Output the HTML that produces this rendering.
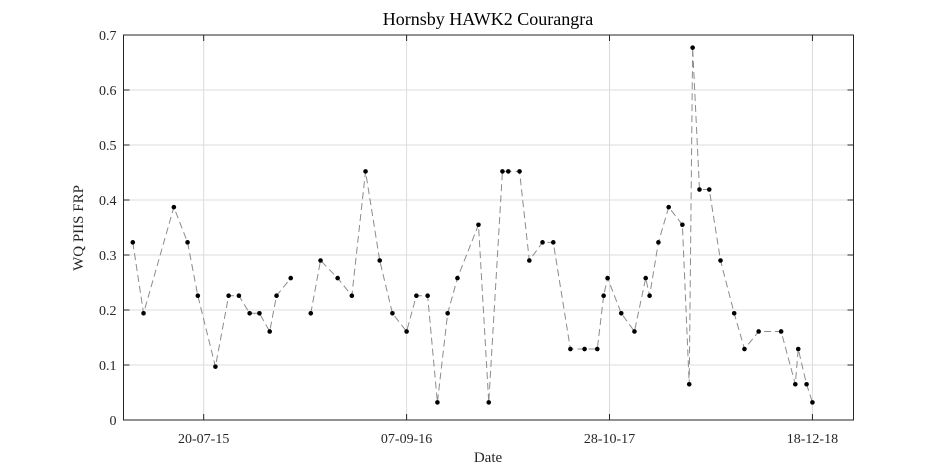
<!DOCTYPE html>
<html><head><meta charset="utf-8"><style>
html,body{margin:0;padding:0;background:#fff;}
svg{display:block;font-family:"Liberation Serif",serif;}
</style></head><body>
<svg id="chart" width="945" height="472" viewBox="0 0 945 472"></svg>
<script>
// day offsets from 20-07-15
const days = [-145,-123,-61,-33,-12,24,51,72,94,114,135,149,178,190,219,239,274,303,331,360,386,415,435,458,478,499,519,562,583,611,623,646,666,693,715,750,779,805,818,826,854,881,904,912,930,951,979,993,1000,1014,1034,1057,1085,1106,1135,1181,1210,1216,1233,1245];
const values = [0.323,0.194,0.387,0.323,0.226,0.097,0.226,0.226,0.194,0.194,0.161,0.226,0.258,null,0.194,0.290,0.258,0.226,0.452,0.290,0.194,0.161,0.226,0.226,0.032,0.194,0.258,0.355,0.032,0.452,0.452,0.452,0.290,0.323,0.323,0.129,0.129,0.129,0.226,0.258,0.194,0.161,0.258,0.226,0.323,0.387,0.355,0.065,0.677,0.419,0.419,0.290,0.194,0.129,0.161,0.161,0.065,0.129,0.065,0.032];
const xTickDays = [0,415,830,1245];
const xTickLabels = ["20-07-15","07-09-16","28-10-17","18-12-18"];
const yTicks = [0,0.1,0.2,0.3,0.4,0.5,0.6,0.7];
const yTickLabels = ["0","0.1","0.2","0.3","0.4","0.5","0.6","0.7"];

const L=123.5,R=853.5,T=35,B=420;
const xS=d=>L+(d+164)/(1329+164)*(R-L);
const yS=v=>B-v/0.7*(B-T);
const svg=document.getElementById('chart');
const NS='http://www.w3.org/2000/svg';
function mk(tag,attrs,parent){const e=document.createElementNS(NS,tag);for(const k in attrs)e.setAttribute(k,attrs[k]);(parent||svg).appendChild(e);return e;}

const grid=mk('g',{});


yTicks.forEach((v,i)=>{
  const y=yS(v);
  const gl=mk('line',{x1:L,x2:R,y1:y,y2:y,stroke:'#dcdcdc','stroke-width':1},grid);
  
  
  const t1=mk('line',{x1:L,x2:L+6,y1:y,y2:y,stroke:'#262626'});
  
  
  const t2=mk('line',{x1:R-6,x2:R,y1:y,y2:y,stroke:'#262626'});
  
  
  const tx=mk('text',{x:L-7,y:y+5,'text-anchor':'end','font-size':14,fill:'#262626'});
  tx.textContent=yTickLabels[i];
  
  
});
xTickDays.forEach((d,i)=>{
  const x=xS(d);
  const gl=mk('line',{x1:x,x2:x,y1:T,y2:B,stroke:'#dcdcdc','stroke-width':1},grid);
  
  
  const t1=mk('line',{x1:x,x2:x,y1:B,y2:B-6,stroke:'#262626'});
  
  
  const t2=mk('line',{x1:x,x2:x,y1:T,y2:T+6,stroke:'#262626'});
  
  
  const tx=mk('text',{x:x,y:B+23,'text-anchor':'middle','font-size':14,fill:'#262626'});
  tx.textContent=xTickLabels[i];
  
  
});
const box=mk('rect',{x:L,y:T,width:R-L,height:B-T,fill:'none',stroke:'#262626','stroke-width':1});



// line segments (break at null)
let segs=[],cur=[];
values.forEach((v,i)=>{if(v===null){if(cur.length)segs.push(cur);cur=[];}else cur.push([xS(days[i]),yS(v)]);});
if(cur.length)segs.push(cur);
segs.forEach(s=>{
  const p=mk('polyline',{points:s.map(q=>q.join(',')).join(' '),fill:'none',stroke:'#8c8c8c','stroke-width':1,'stroke-dasharray':'7,4'});
  
  
});
values.forEach((v,i)=>{
  if(v===null)return;
  const c=mk('circle',{cx:xS(days[i]),cy:yS(v),r:2.3,fill:'#000'});
  
  
});

const title=mk('text',{x:488,y:25,'text-anchor':'middle','font-size':18,fill:'#000'});
title.textContent='Hornsby HAWK2 Courangra';


const xl=mk('text',{x:488,y:462,'text-anchor':'middle','font-size':15,fill:'#262626'});
xl.textContent='Date';


const yl=mk('text',{x:0,y:0,'text-anchor':'middle','font-size':15,fill:'#262626',transform:'translate(83,228) rotate(-90)'});
yl.textContent='WQ PIIS FRP';


</script>
</body></html>
